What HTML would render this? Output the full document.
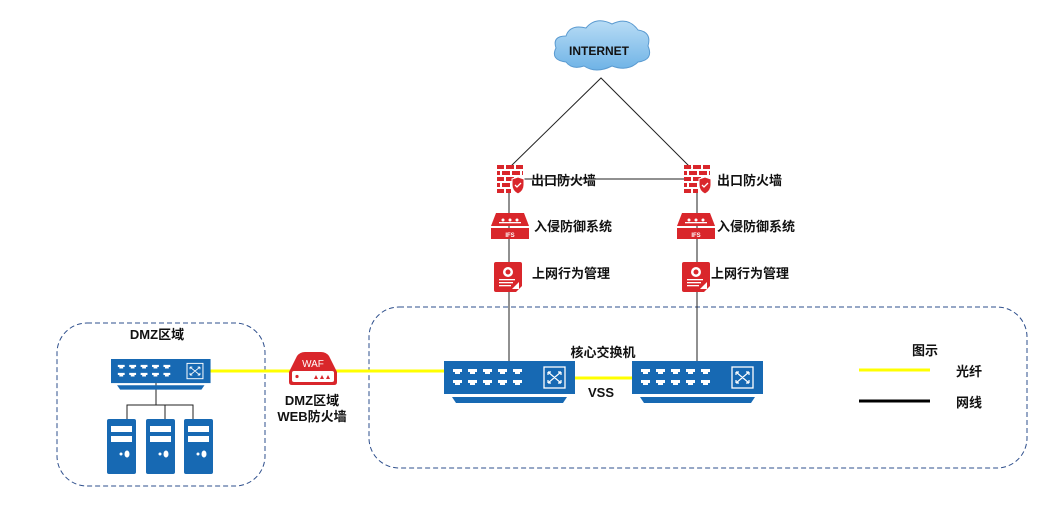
<!DOCTYPE html>
<html><head><meta charset="utf-8"><style>
html,body{margin:0;padding:0;background:#fff}
svg{display:block}
text{font-family:"Liberation Sans","Noto Sans CJK SC",sans-serif;font-weight:bold;font-size:13px;fill:#111}
</style></head><body>
<svg width="1043" height="520" viewBox="0 0 1043 520" xmlns="http://www.w3.org/2000/svg">
<defs>
<linearGradient id="cg" x1="0" y1="0" x2="0" y2="1"><stop offset="0" stop-color="#b8dcf5"/><stop offset="1" stop-color="#6fb3e6"/></linearGradient>
<g id="sw">
<rect x="0" y="0" width="131" height="33" fill="#1769b3"/>
<path d="M8 36 H123 L119 42 H12 Z" fill="#1769b3"/>
<g fill="#fff">
<g id="prow"><path d="M9 8h9v3h-2v2h-5v-2h-2z"/><path d="M24 8h9v3h-2v2h-5v-2h-2z"/><path d="M39 8h9v3h-2v2h-5v-2h-2z"/><path d="M54 8h9v3h-2v2h-5v-2h-2z"/><path d="M69 8h9v3h-2v2h-5v-2h-2z"/></g>
<use href="#prow" y="11"/>
</g>
<rect x="100" y="6" width="21" height="21" fill="none" stroke="#fff" stroke-width="1.3"/>
<path d="M104 11 L117 22 M104 22 L117 11 M104 11h3 M104 11v3 M117 11h-3 M117 11v3 M104 22h3 M104 22v-3 M117 22h-3 M117 22v-3" stroke="#fff" stroke-width="1.2" fill="none"/>
</g>
<g id="fw">
<g fill="#d9262b">
<rect x="0" y="0" width="7" height="4"/><rect x="9" y="0" width="8" height="4"/><rect x="19" y="0" width="7" height="4"/>
<rect x="0" y="6" width="3" height="4"/><rect x="5" y="6" width="8" height="4"/><rect x="15" y="6" width="8" height="4"/><rect x="25" y="6" width="1" height="4"/>
<rect x="0" y="12" width="7" height="4"/><rect x="9" y="12" width="8" height="4"/>
<rect x="0" y="18" width="3" height="4"/><rect x="5" y="18" width="8" height="4"/>
<rect x="0" y="24" width="7" height="4"/><rect x="9" y="24" width="5" height="4"/>
<path d="M15 14 L21 12 L27 14 V20 Q27 26 21 29 Q15 26 15 20 Z" stroke="#fff" stroke-width="1"/>
</g>
<path d="M18 20 l2 2 l4 -4" stroke="#fff" stroke-width="1.3" fill="none"/>
</g>
<g id="ips">
<path d="M5 0 H33 L38 13 H0 Z" fill="#d9262b"/>
<rect x="0" y="15" width="38" height="11" fill="#d9262b"/>
<g fill="#fff"><circle cx="12" cy="7" r="1.5"/><circle cx="19" cy="7" r="1.5"/><circle cx="26" cy="7" r="1.5"/><rect x="8" y="9" width="22" height="1.3"/></g>
<text x="19" y="24" text-anchor="middle" style="font-size:6px;fill:#fff">IFS</text>
</g>
<g id="doc">
<path d="M2 0 H26 Q28 0 28 2 V24 L22 30 H2 Q0 30 0 28 V2 Q0 0 2 0Z" fill="#d9262b"/>
<rect x="3" y="3" width="22" height="24" fill="#fff"/>
<path d="M3 3 H25 V20 L18 27 H3Z" fill="#d9262b"/>
<circle cx="14" cy="10" r="5" fill="#fff"/><circle cx="14" cy="10" r="2.5" fill="#d9262b"/>
<rect x="5" y="17" width="16" height="1.3" fill="#fff"/><rect x="5" y="20" width="14" height="1.3" fill="#fff"/><rect x="5" y="23" width="12" height="1.3" fill="#fff"/>
</g>
<g id="srv">
<rect x="0" y="0" width="29" height="55" rx="2" fill="#1769b3"/>
<rect x="4" y="7" width="21" height="6" fill="#fff"/><rect x="4" y="17" width="21" height="6" fill="#fff"/>
<circle cx="14" cy="35" r="1.5" fill="#fff"/><ellipse cx="20" cy="35" rx="2.5" ry="3.5" fill="#fff"/>
</g>
</defs>

<!-- dashed boxes -->
<rect x="57" y="323" width="208" height="163" rx="30" fill="none" stroke="#2e4f8c" stroke-dasharray="5,3" stroke-width="1"/>
<rect x="369" y="307" width="658" height="161" rx="30" fill="none" stroke="#2e4f8c" stroke-dasharray="5,3" stroke-width="1"/>

<!-- cloud -->
<path d="M566 62 Q550 60 556 48 Q552 36 566 36 Q570 24 586 28 Q596 16 612 24 Q628 16 638 30 Q652 32 648 46 Q654 60 638 62 Q628 72 612 66 Q596 74 584 66 Q572 70 566 62Z" fill="url(#cg)" stroke="#5a9ad0" stroke-width="1"/>
<text x="599" y="55" text-anchor="middle" style="font-size:12px">INTERNET</text>

<!-- black lines -->
<g stroke="#222" stroke-width="1" fill="none">
<path d="M509 168 L601 78 L691 168"/>
<path d="M522 179 H684"/>
<path d="M509 190 V370"/><path d="M697 190 V370"/>
<path d="M156 383 V405 M127 419 V405 H193 V419 M165 405 V419"/>
</g>

<!-- yellow -->
<path d="M210 371 H444" stroke="#ffff00" stroke-width="3"/>
<path d="M575 378 H632" stroke="#ffff00" stroke-width="3"/>

<use href="#fw" x="497" y="165"/><use href="#fw" x="684" y="165"/>
<use href="#ips" x="491" y="213"/><use href="#ips" x="677" y="213"/>
<use href="#doc" x="494" y="262"/><use href="#doc" x="682" y="262"/>
<text x="531" y="185">出口防火墙</text><text x="717" y="185">出口防火墙</text>
<text x="534" y="231">入侵防御系统</text><text x="717" y="231">入侵防御系统</text>
<text x="532" y="278">上网行为管理</text><text x="711" y="278">上网行为管理</text>

<use href="#sw" x="444" y="361"/><use href="#sw" x="632" y="361"/>
<text x="603" y="357" text-anchor="middle">核心交换机</text>
<text x="601" y="397" text-anchor="middle">VSS</text>

<!-- DMZ -->
<text x="157" y="339" text-anchor="middle">DMZ区域</text>
<g transform="translate(111,359) scale(0.76,0.73)"><use href="#sw"/></g>
<use href="#srv" x="107" y="419"/><use href="#srv" x="146" y="419"/><use href="#srv" x="184" y="419"/>

<!-- WAF -->
<path d="M297 356 Q300 352 305 352 H321 Q326 352 329 356 L337 372 V382 Q337 385 334 385 H292 Q289 385 289 382 V372 Z" fill="#d9262b"/>
<rect x="292" y="371" width="42" height="11" rx="2" fill="#fff"/>
<circle cx="297" cy="376.5" r="1.6" fill="#d9262b"/>
<path d="M314 379 l2-4 l2 4z M320 379 l2-4 l2 4z M326 379 l2-4 l2 4z" fill="#d9262b"/>
<text x="313" y="367" text-anchor="middle" style="font-size:10px;font-weight:normal;fill:#fff">WAF</text>
<text x="312" y="405" text-anchor="middle">DMZ区域</text>
<text x="312" y="421" text-anchor="middle">WEB防火墙</text>

<!-- legend -->
<text x="925" y="355" text-anchor="middle">图示</text>
<path d="M859 370 H930" stroke="#ffff00" stroke-width="3"/>
<text x="956" y="376">光纤</text>
<path d="M859 401 H930" stroke="#000" stroke-width="3"/>
<text x="956" y="407">网线</text>
</svg>
</body></html>
